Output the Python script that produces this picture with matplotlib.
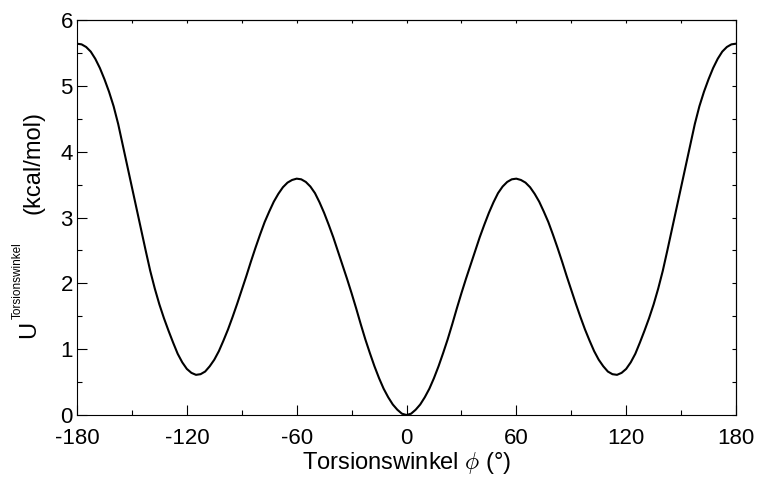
import numpy as np
import matplotlib
matplotlib.use('Agg')
from matplotlib import pyplot as plt
from matplotlib.ticker import MultipleLocator

plt.rcParams['font.family'] = ['Liberation Sans', 'DejaVu Sans']
plt.rcParams['mathtext.fontset'] = 'cm'

# torsion angle (deg) and energy (kcal/mol)
phi = [-180, -177.5, -175, -172.5, -170, -167.5, -165, -162.5, -160, -157.5,
       -155, -152.5, -150, -147.5, -145, -142.5, -140, -137.5, -135, -132.5,
       -130, -127.5, -125, -122.5, -120, -117.5, -115, -112.5, -110, -107.5,
       -105, -102.5, -100, -97.5, -95, -92.5, -90, -87.5, -85, -82.5,
       -80, -77.5, -75, -72.5, -70, -67.5, -65, -62.5, -60, -57.5,
       -55, -52.5, -50, -47.5, -45, -42.5, -40, -37.5, -35, -32.5,
       -30, -27.5, -25, -22.5, -20, -17.5, -15, -12.5, -10, -7.5,
       -5, -2.5, 0, 2.5, 5, 7.5, 10, 12.5, 15, 17.5,
       20, 22.5, 25, 27.5, 30, 32.5, 35, 37.5, 40, 42.5,
       45, 47.5, 50, 52.5, 55, 57.5, 60, 62.5, 65, 67.5,
       70, 72.5, 75, 77.5, 80, 82.5, 85, 87.5, 90, 92.5,
       95, 97.5, 100, 102.5, 105, 107.5, 110, 112.5, 115, 117.5,
       120, 122.5, 125, 127.5, 130, 132.5, 135, 137.5, 140, 142.5,
       145, 147.5, 150, 152.5, 155, 157.5, 160, 162.5, 165, 167.5,
       170, 172.5, 175, 177.5, 180]
energy = [5.64, 5.63, 5.59, 5.52, 5.41, 5.27, 5.10, 4.91, 4.69, 4.42,
          4.10, 3.78, 3.46, 3.14, 2.82, 2.50, 2.19, 1.92, 1.68, 1.47,
          1.28, 1.10, 0.93, 0.80, 0.70, 0.64, 0.61, 0.62, 0.66, 0.74,
          0.84, 0.97, 1.13, 1.30, 1.49, 1.69, 1.90, 2.11, 2.33, 2.54,
          2.74, 2.93, 3.09, 3.24, 3.36, 3.46, 3.53, 3.57, 3.59, 3.58,
          3.54, 3.47, 3.37, 3.23, 3.07, 2.89, 2.70, 2.49, 2.28, 2.07,
          1.85, 1.62, 1.38, 1.15, 0.94, 0.74, 0.56, 0.40, 0.27, 0.16,
          0.08, 0.02, 0.00, 0.02, 0.08, 0.16, 0.27, 0.40, 0.56, 0.74,
          0.94, 1.15, 1.38, 1.62, 1.85, 2.07, 2.28, 2.49, 2.70, 2.89,
          3.07, 3.23, 3.37, 3.47, 3.54, 3.58, 3.59, 3.57, 3.53, 3.46,
          3.36, 3.24, 3.09, 2.93, 2.74, 2.54, 2.33, 2.11, 1.90, 1.69,
          1.49, 1.30, 1.13, 0.97, 0.84, 0.74, 0.66, 0.62, 0.61, 0.64,
          0.70, 0.80, 0.93, 1.10, 1.28, 1.47, 1.68, 1.92, 2.19, 2.50,
          2.82, 3.14, 3.46, 3.78, 4.10, 4.42, 4.69, 4.91, 5.10, 5.27,
          5.41, 5.52, 5.59, 5.63, 5.64]

xticks = [-180, -120, -60, 0, 60, 120, 180]
xticklabels = ['-180', '-120', '-60', '0', '60', '120', '180']

W, H = 757, 482
fig = plt.figure(figsize=(W / 100, H / 100), dpi=100)
ax = fig.add_axes([77 / W, 1 - 415 / H, (736 - 77) / W, (415 - 20) / H])

ax.plot(phi, energy, color='k', lw=1.5, solid_joinstyle='round')

ax.set_xlim(-180, 180)
ax.set_ylim(0, 6)
ax.xaxis.set_minor_locator(MultipleLocator(30))
ax.yaxis.set_major_locator(MultipleLocator(1))
ax.yaxis.set_minor_locator(MultipleLocator(0.5))
ax.tick_params(which='major', direction='in', length=7, width=0.8, labelsize=16)
ax.tick_params(axis='x', which='major', pad=9)
ax.tick_params(axis='y', which='major', pad=3)
ax.tick_params(which='minor', direction='in', length=3.6, width=0.8)
for s in ax.spines.values():
    s.set_linewidth(0.8)

# short ticks on top and right
top = ax.secondary_xaxis('top')
top.xaxis.set_major_locator(MultipleLocator(30))
top.tick_params(direction='in', length=2, width=0.8, labeltop=False)
right = ax.secondary_yaxis('right')
right.yaxis.set_major_locator(MultipleLocator(0.5))
right.tick_params(direction='in', length=3, width=0.8, labelright=False)

ax.set_xticks(xticks)
ax.set_xticklabels(xticklabels)
ax.set_xlabel(r'Torsionswinkel $\phi$ (°)', fontsize=17, labelpad=1)

# y label: U with small superscript
fig.text(29 / W, 1 - 329 / H, 'U', rotation=90, fontsize=17, ha='center', va='center')
fig.text(18 / W, 1 - 281 / H, 'Torsionswinkel', rotation=90, fontsize=8.5,
         ha='center', va='center')
fig.text(33 / W, 1 - 163 / H, '(kcal/mol)', rotation=90, fontsize=17,
         ha='center', va='center')

fig.savefig('out.png', dpi=100)
